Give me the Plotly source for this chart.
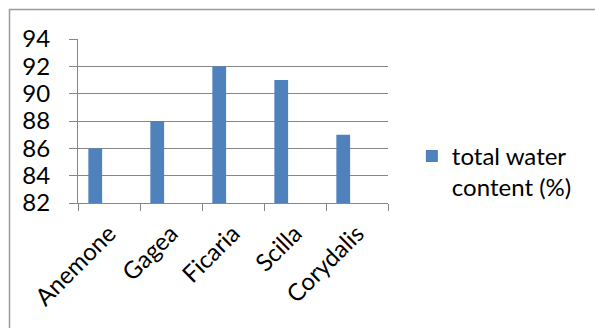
import plotly.graph_objects as go

# Water content of spring ephemeral species
species = ["Anemone", "Gagea", "Ficaria", "Scilla", "Corydalis"]
water_content = [86, 88, 92, 91, 87]
y_ticks = [82, 84, 86, 88, 90, 92, 94]
y_floor = 82

FONT = dict(family="Lato, 'Open Sans', sans-serif", size=24, color="#000000")
GRID = "#878787"
BAR = "#4F81BD"

W, H = 595, 328
L, R, T, B = 78, 207, 39, 125

fig = go.Figure()
fig.add_trace(go.Bar(
    x=species,
    y=[v - y_floor for v in water_content],
    base=y_floor,
    name="total water<br>content (%)",
    marker=dict(color=BAR, line=dict(width=0)),
    width=0.222,
    offset=-0.333,
))

fig.update_layout(
    width=W, height=H,
    margin=dict(l=L, r=R, t=T, b=B, pad=0),
    paper_bgcolor="white",
    plot_bgcolor="white",
    font=FONT,
    showlegend=True,
    legend=dict(
        x=1.077, y=0.19, xanchor="left", yanchor="middle",
        font=FONT, bgcolor="rgba(0,0,0,0)", valign="top",
        itemwidth=30, tracegroupgap=0,
    ),
    shapes=[dict(
        type="rect", xref="paper", yref="paper",
        x0=(9.5 - L) / (W - L - R), x1=2.0,
        y0=-2.0, y1=(H - B - 9.5) / (H - T - B),
        line=dict(color="#9a9a9a", width=1.5),
        fillcolor="rgba(0,0,0,0)", layer="below",
    )],
)

fig.update_yaxes(
    range=[82, 94],
    tickvals=y_ticks,
    ticktext=[str(v) for v in y_ticks],
    showgrid=True, gridcolor=GRID, gridwidth=1,
    showline=True, linecolor=GRID, linewidth=1,
    ticks="outside", ticklen=8, tickcolor=GRID,
    ticklabelstandoff=14,
    zeroline=False,
    tickfont=FONT,
)
fig.update_xaxes(
    type="category",
    showline=True, linecolor=GRID, linewidth=1,
    ticks="outside", ticklen=7, tickcolor=GRID,
    tickson="boundaries",
    tickangle=-45,
    ticklabelstandoff=6,
    showgrid=False,
    tickfont=FONT,
)

fig.write_html("out.html")
